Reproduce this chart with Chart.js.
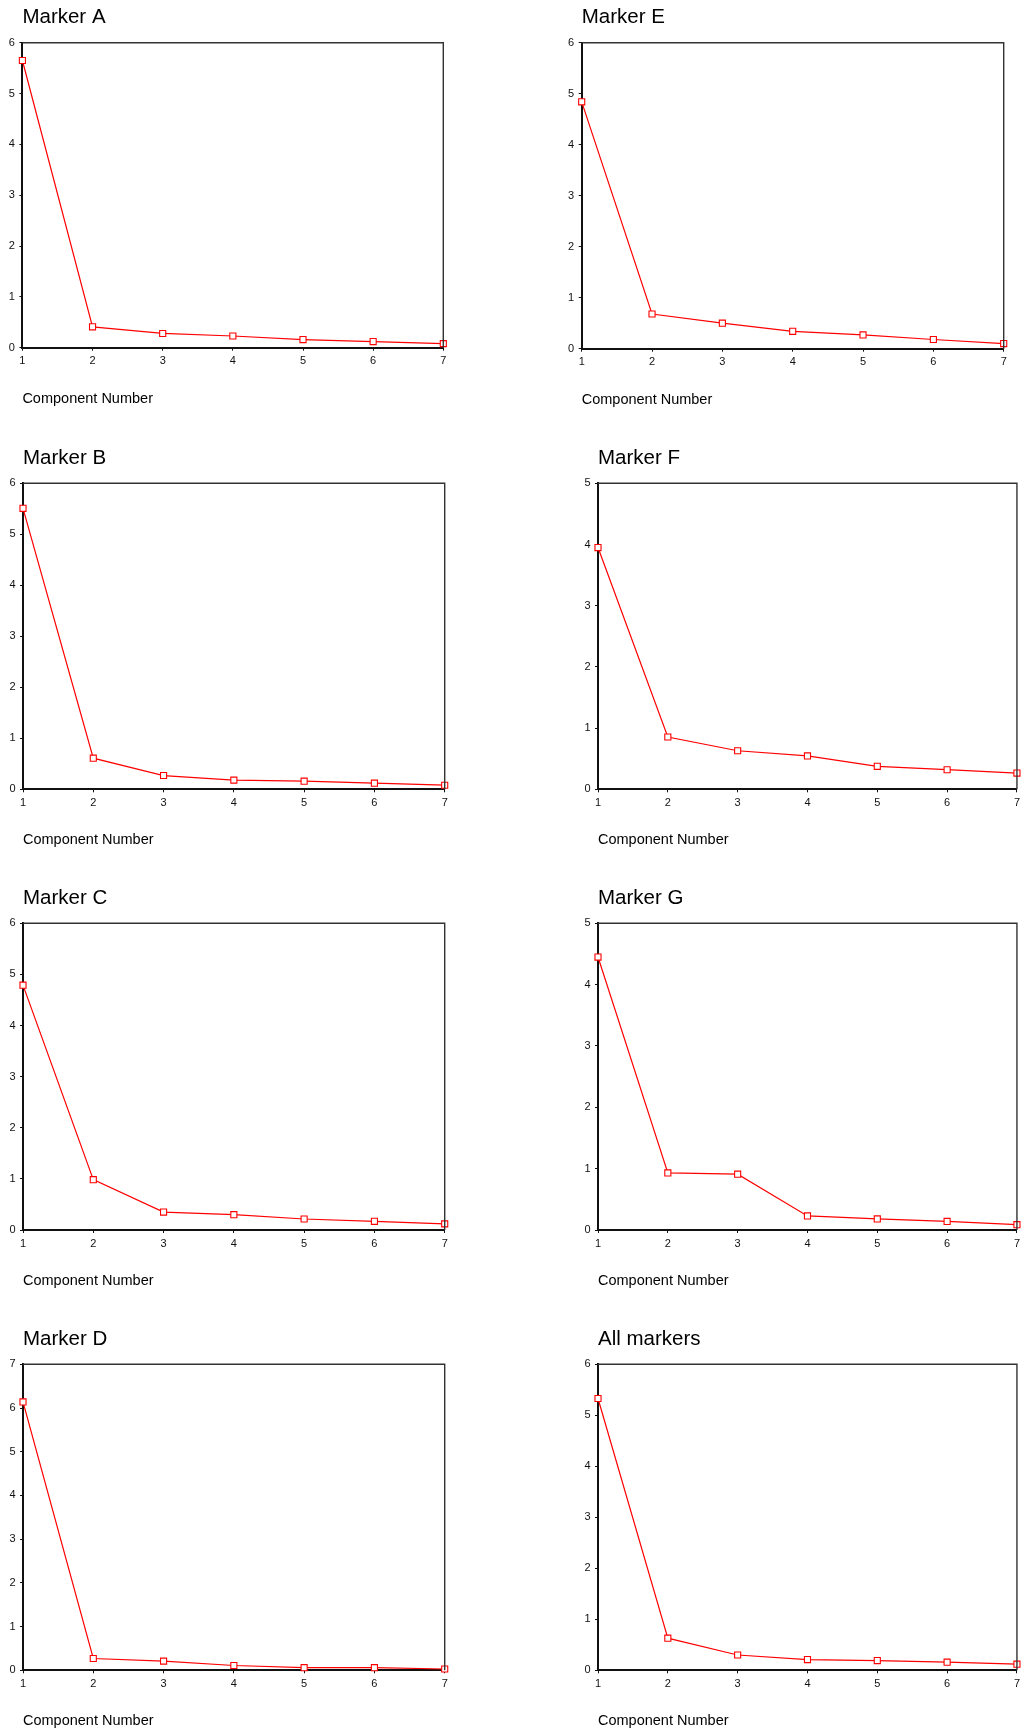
<!DOCTYPE html>
<html>
<head>
<meta charset="utf-8">
<script src="https://cdn.jsdelivr.net/npm/chart.js@4.4.1/dist/chart.umd.min.js"></script>
<style>
  html, body { margin: 0; padding: 0; background: #fff; width: 1024px; height: 1732px; overflow: hidden; }
  #wrap { position: relative; width: 1024px; height: 1732px; }
  canvas { position: absolute; }
</style>
</head>
<body>
<div id="wrap"></div>
<script>
// ---- data ----
const components = ['1', '2', '3', '4', '5', '6', '7'];
const titles = ['Marker A', 'Marker B', 'Marker C', 'Marker D', 'Marker E', 'Marker F', 'Marker G', 'All markers'];
const xAxisTitle = 'Component Number';
const markerA = [5.65, 0.41, 0.28, 0.23, 0.16, 0.12, 0.08];
const markerB = [5.51, 0.61, 0.27, 0.18, 0.16, 0.12, 0.08];
const markerC = [4.79, 0.985, 0.35, 0.30, 0.215, 0.17, 0.12];
const markerD = [6.14, 0.27, 0.21, 0.11, 0.06, 0.06, 0.03];
const markerE = [4.84, 0.68, 0.50, 0.34, 0.27, 0.18, 0.10];
const markerF = [3.95, 0.855, 0.63, 0.545, 0.375, 0.32, 0.265];
const markerG = [4.45, 0.93, 0.91, 0.23, 0.18, 0.14, 0.087];
const allMarkers = [5.33, 0.63, 0.30, 0.21, 0.19, 0.16, 0.12];
const yMaxes = [6, 6, 6, 7, 6, 5, 5, 6];
const seriesList = [markerA, markerB, markerC, markerD, markerE, markerF, markerG, allMarkers];

// ---- layout (plot areas in page pixels) ----
const areas = [
  {L: 22.4, R: 443.3, T: 42.7, B: 347.7},
  {L: 23.0, R: 444.7, T: 483.3, B: 789.3},
  {L: 23.0, R: 444.7, T: 923.3, B: 1230.0},
  {L: 23.0, R: 444.7, T: 1364.3, B: 1670.3},
  {L: 581.7, R: 1003.7, T: 42.7, B: 348.7},
  {L: 598.0, R: 1019.3, T: 483.3, B: 789.3},
  {L: 598.0, R: 1019.3, T: 923.3, B: 1230.0},
  {L: 598.0, R: 1019.3, T: 1364.3, B: 1670.3}
];
const Y_W = 22.5, TOP_H = 42.7, X_H = 62;
const FONT = '"Liberation Sans", Arial, Helvetica, sans-serif';

const framePlugin = {
  id: 'frame',
  afterDraw(chart) {
    const a = chart.chartArea, ctx = chart.ctx;
    ctx.save();
    ctx.strokeStyle = '#333';
    ctx.lineWidth = 1.4;
    ctx.beginPath();
    ctx.moveTo(a.left, a.top);
    ctx.lineTo(a.right, a.top);
    ctx.lineTo(a.right, a.bottom);
    ctx.stroke();
    ctx.restore();
  }
};

const wrap = document.getElementById('wrap');
areas.forEach((p, i) => {
  const cl = Math.floor(p.L - Y_W);
  const ct = Math.floor(p.T - TOP_H);
  const W = Math.ceil(Math.min(p.R + 14, 1024) - cl);
  const H = Math.ceil(p.B - ct + X_H + 4);
  const padL = p.L - Y_W - cl;
  const padT = p.T - TOP_H - ct;
  const padR = W - (p.R - cl);
  const padB = H - (p.B - ct) - X_H;

  const cv = document.createElement('canvas');
  cv.width = W; cv.height = H;
  cv.style.left = cl + 'px'; cv.style.top = ct + 'px';
  cv.style.width = W + 'px'; cv.style.height = H + 'px';
  wrap.appendChild(cv);

  new Chart(cv, {
    type: 'line',
    data: {
      labels: components,
      datasets: [{
        data: seriesList[i],
        borderColor: '#ff0000',
        borderWidth: 1.2,
        pointStyle: 'rect',
        pointRadius: 4.3,
        pointBorderWidth: 1.1,
        pointBorderColor: '#ff0000',
        pointBackgroundColor: '#ffffff',
        tension: 0,
        clip: false
      }]
    },
    options: {
      responsive: false,
      animation: false,
      devicePixelRatio: 1,
      layout: { padding: { left: padL, top: padT, right: padR, bottom: padB } },
      plugins: {
        legend: { display: false },
        tooltip: { enabled: false },
        title: {
          display: true,
          text: titles[i],
          align: 'start',
          fullSize: false,
          color: '#000',
          font: { family: FONT, size: 20.5, weight: 'normal', lineHeight: 1.2 },
          padding: { top: 5.2, bottom: TOP_H - 5.2 - 24.6 }
        }
      },
      scales: {
        x: {
          type: 'category',
          offset: false,
          grid: { drawOnChartArea: false, drawTicks: true, tickLength: 3, color: '#111', lineWidth: 1 },
          border: { display: true, color: '#111', width: 2 },
          ticks: { color: '#111', padding: 4, font: { family: FONT, size: 11 }, maxRotation: 0, autoSkip: false },
          title: {
            display: true,
            text: xAxisTitle,
            align: 'start',
            color: '#000',
            font: { family: FONT, size: 14.5, lineHeight: 1.2 },
            padding: { top: 0, bottom: 2.5 }
          },
          afterFit(scale) { scale.height = X_H; }
        },
        y: {
          min: 0,
          max: yMaxes[i],
          grid: { drawOnChartArea: false, drawTicks: true, tickLength: 3, color: '#111', lineWidth: 1 },
          border: { display: true, color: '#111', width: 2 },
          ticks: { stepSize: 1, color: '#111', padding: 4.5, font: { family: FONT, size: 11 } },
          afterFit(scale) { scale.width = Y_W; }
        }
      }
    },
    plugins: [framePlugin]
  });
});
</script>
</body>
</html>
